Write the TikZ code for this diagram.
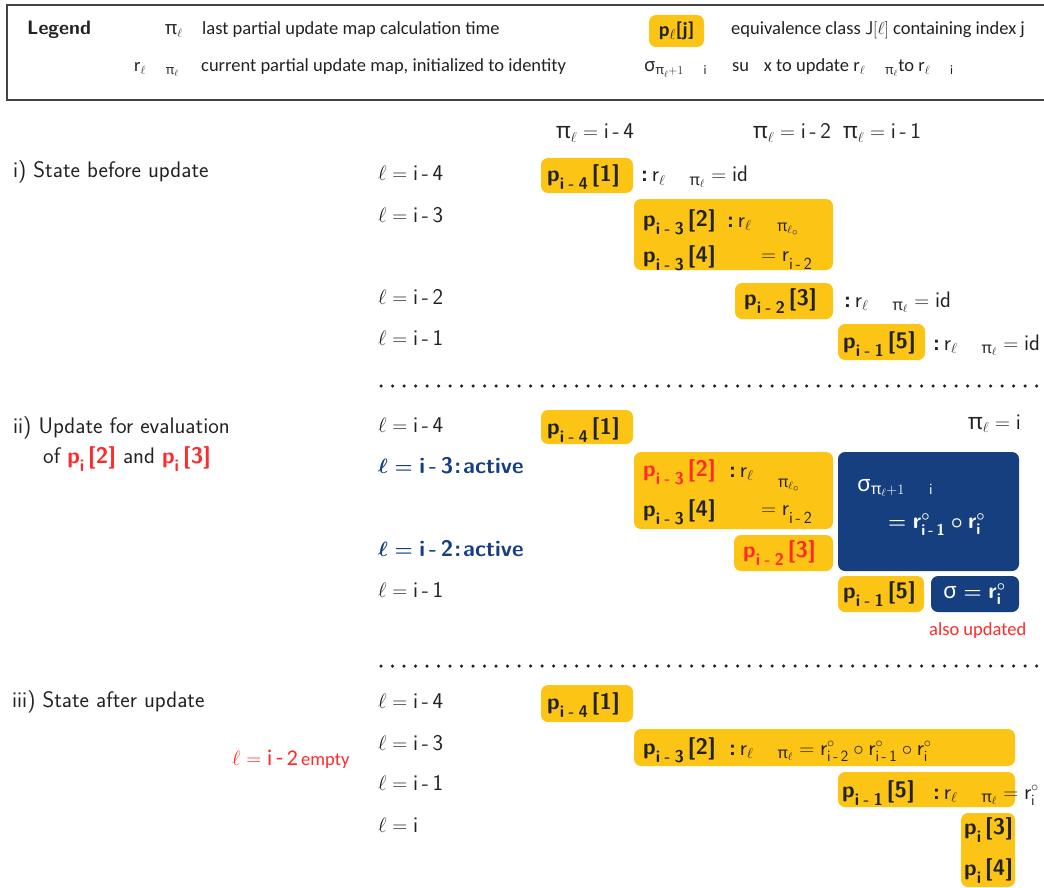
\documentclass[tikz,border=0pt]{standalone}
\usepackage{amsmath}
\usepackage{fontspec}
\newfontfamily\legendfont{Carlito}
\newfontfamily\grk{Noto Sans}
\renewcommand\familydefault{\sfdefault}
\definecolor{ink}{HTML}{222222}
\definecolor{boxyellow}{HTML}{FCC516}
\definecolor{boxblue}{HTML}{163F80}
\definecolor{alert}{HTML}{FF2A2A}
\definecolor{framegray}{HTML}{444444}

% font sizes
\newcommand\mainsize{\fontsize{22.5}{27}\selectfont}
\newcommand\legsize{\fontsize{18.5}{22}\selectfont}
\newcommand\notesize{\fontsize{18.5}{22}\selectfont}

% notation
\newcommand\mi[1]{\text{i\,-\,#1}}
\newcommand\upi{\text{\grk π}}
\newcommand\usig{\text{\grk σ}}
\newcommand\rr{\text{r}}
\newcommand\rpl{\rr_{\ell\hspace{1.1em}\upi_\ell}}
% p with a lowered index and a class number
\newcommand\lowidx[1]{\raisebox{-8pt}{\fontsize{17}{20}\selectfont #1}}
\newcommand\pp[2]{p\lowidx{i\hspace{0.24em}-\hspace{0.24em}#1}\hspace{4pt}[#2]}
\newcommand\ppi[1]{p\lowidx{i}\hspace{4pt}[#1]}

\tikzset{
  txt/.style={inner sep=0pt, anchor=base west, text=ink, font=\mainsize},
  bold/.style={inner sep=0pt, anchor=base west, text=ink, font=\mainsize\bfseries},
  leg/.style={inner sep=0pt, anchor=base west, text=ink, font=\legendfont\legsize},
  note/.style={inner sep=0pt, anchor=base west, text=alert, font=\legendfont\notesize},
  active/.style={inner sep=0pt, anchor=base west, text=boxblue, font=\mainsize\bfseries\boldmath},
  ybox/.style={fill=boxyellow, rounded corners=7pt},
  bbox/.style={fill=boxblue, rounded corners=7pt},
  sep/.style={draw=ink, line width=3.5pt, line cap=round, dash pattern=on 0pt off 11.5pt},
  frame/.style={draw=framegray, line width=2pt},
}

\begin{document}
\begin{tikzpicture}[x=1pt,y=-1pt]
\useasboundingbox (0,0) rectangle (1044,888);
\clip (0,0) rectangle (1044,888);

% ---------------- legend ----------------
\draw[frame] (7,5) rectangle (1070,100);
\node[inner sep=0pt, anchor=base west, text=ink, font=\fontsize{19.5}{23}\selectfont\bfseries] (legend) at (27,35) {Legend};
\node[leg] (legpi) at (165,35) {$\upi_\ell$};
\node[leg] (legpitxt) at (202,35) {last partial update map calculation time};
\fill[ybox] (649,15) rectangle (704,47);
\node[inner sep=0pt, anchor=center, text=ink, font=\legendfont\fontsize{20}{24}\selectfont\bfseries] (legp) at (676.5,31) {p$_\ell$[j]};
\node[leg] (legeq) at (731,35) {equivalence class $\mathsf{J}[\ell]$ containing index j};
\node[leg] (legr) at (134,72) {$\rr_{\ell\hspace{1.1em}\upi_\ell}$};
\node[leg] (legrtxt) at (201,72) {current partial update map, initialized to identity};
\node[leg] (legsig) at (644,72) {$\usig_{\upi_\ell+1\hspace{1.1em}\text{i}}$};
\node[leg] (legsigtxt) at (732,72) {su\hspace{0.8em}x to update $\rr_{\ell\hspace{1.1em}\upi_\ell}$to $\rr_{\ell\hspace{1.1em}\text{i}}$};

% ---------------- column heads ----------------
\node[txt] (h4) at (556,139) {$\upi_\ell=\mi4$};
\node[txt] (h2) at (753,139) {$\upi_\ell=\mi2$};
\node[txt] (h1) at (843,139) {$\upi_\ell=\mi1$};

% ---------------- i) before update ----------------
\node[txt] (s1) at (13,177) {i) State before update};
\node[txt] (a4) at (378,180) {$\ell=\mi4$};
\node[txt] (a3) at (378,222) {$\ell=\mi3$};
\node[txt] (a2) at (378,304) {$\ell=\mi2$};
\node[txt] (a1) at (378,345) {$\ell=\mi1$};

\fill[ybox] (541,158) rectangle (633,193);
\node[bold] (a4p) at (547,181) {\pp{4}{1}};
\node[txt] (a4r) at (641,182) {\textbf{:}\,$\rpl=\text{id}$};

\fill[ybox] (634,199) rectangle (833,270);
\node[bold] (a3p2) at (643,226) {\pp{3}{2}};
\node[txt] (a3r) at (727,227) {\textbf{:}\,$\rr_\ell$};
\node[txt] (a3pi) at (777,231) {$\scriptstyle\upi_{\ell_\circ}$};
\node[bold] (a3p4) at (643,262) {\pp{3}{4}};
\node[txt] (a3eq) at (761,261) {$=\rr\lowidx{i\,-\,2}$};

\fill[ybox] (735,283) rectangle (833,319);
\node[bold] (a2p) at (744,305) {\pp{2}{3}};
\node[txt] (a2r) at (844,307) {\textbf{:}\,$\rpl=\text{id}$};

\fill[ybox] (838,324) rectangle (925,360);
\node[bold] (a1p) at (843,348) {\pp{1}{5}};
\node[txt] (a1r) at (933,350) {\textbf{:}\,$\rpl=\text{id}$};

\coordinate (d1a) at (381,386);
\coordinate (d1b) at (1044,386);
\draw[sep] (d1a) -- (d1b);

% ---------------- ii) update ----------------
\node[txt] (s2a) at (13,433) {ii) Update for evaluation};
\node[txt] (s2b) at (43,463) {of \textcolor{alert}{\bfseries\ppi{2}} and \textcolor{alert}{\bfseries\ppi{3}}};
\node[txt] (b4) at (378,432) {$\ell=\mi4$};
\node[active] (b3) at (378,473) {$\ell=\text{i\,-\,3\hspace{1pt}:\hspace{2pt}active}$};
\node[active] (b2) at (378,556) {$\ell=\text{i\,-\,2\hspace{1pt}:\hspace{2pt}active}$};
\node[txt] (b1) at (378,597) {$\ell=\mi1$};
\node[txt] (hi) at (968,429) {$\upi_\ell=\text{i}$};

\fill[ybox] (541,410) rectangle (633,444);
\node[bold] (b4p) at (547,434) {\pp{4}{1}};

\fill[ybox] (634,452) rectangle (833,529);
\node[bold, text=alert] (b3p2) at (643,476) {\pp{3}{2}};
\node[txt] (b3r) at (729,477) {\textbf{:}\,$\rr_\ell$};
\node[txt] (b3pi) at (778,487) {$\scriptstyle\upi_{\ell_\circ}$};
\node[bold] (b3p4) at (643,516) {\pp{3}{4}};
\node[txt] (b3eq) at (761,515) {$=\rr\lowidx{i\,-\,2}$};

\fill[ybox] (734,535) rectangle (833,571);
\node[bold, text=alert] (b2p) at (743,557) {\pp{2}{3}};

\fill[bbox] (838,452) rectangle (1019,571);
\node[txt, text=white] (bsig) at (857,491) {$\usig_{\upi_\ell+1\hspace{1.1em}\text{i}}$};
\node[txt, text=white, font=\mainsize\bfseries\boldmath] (bcomp) at (888,528) {$=\rr^\circ_{\mi1}\circ\rr^\circ_{\text{i}}$};

\fill[ybox] (838,576) rectangle (924,612);
\node[bold] (b1p) at (843,598) {\pp{1}{5}};
\fill[bbox] (931,576) rectangle (1019,612);
\node[txt, text=white, font=\mainsize\bfseries\boldmath] (bsig1) at (943,598) {$\usig=\rr^\circ_{\text{i}}$};
\node[note] (also) at (929,635) {also updated};

\coordinate (d2a) at (381,666);
\coordinate (d2b) at (1044,666);
\draw[sep] (d2a) -- (d2b);

% ---------------- iii) after update ----------------
\node[txt] (s3) at (12,707) {iii) State after update};
\node[txt] (c4) at (378,708) {$\ell=\mi4$};
\node[txt] (c3) at (378,750) {$\ell=\mi3$};
\node[txt] (c1) at (378,790) {$\ell=\mi1$};
\node[txt] (c0) at (378,832) {$\ell=\text{i}$};
\node[note] (empty) at (232,765) {{\mainsize$\ell=\mi2$}\,empty};

\fill[ybox] (541,685) rectangle (633,722);
\node[bold] (c4p) at (547,709) {\pp{4}{1}};

\fill[ybox] (634,729) rectangle (1015,766);
\node[bold] (c3p) at (643,754) {\pp{3}{2}};
\node[txt] (c3r) at (729,755) {\textbf{:}\,$\rpl=\rr^\circ_{\mi2}\circ\rr^\circ_{\mi1}\circ\rr^\circ_{\text{i}}$};

\fill[ybox] (838,772) rectangle (1015,807);
\node[bold] (c1p) at (842,797) {\pp{1}{5}};
\node[txt] (c1r) at (933,799) {\textbf{:}\,$\rpl=\rr^\circ_{\text{i}}$};

\fill[ybox] (961,813) rectangle (1015,887);
\node[bold] (c0p3) at (964,834) {\ppi{3}};
\node[bold] (c0p4) at (964,875) {\ppi{4}};
\end{tikzpicture}
\end{document}
